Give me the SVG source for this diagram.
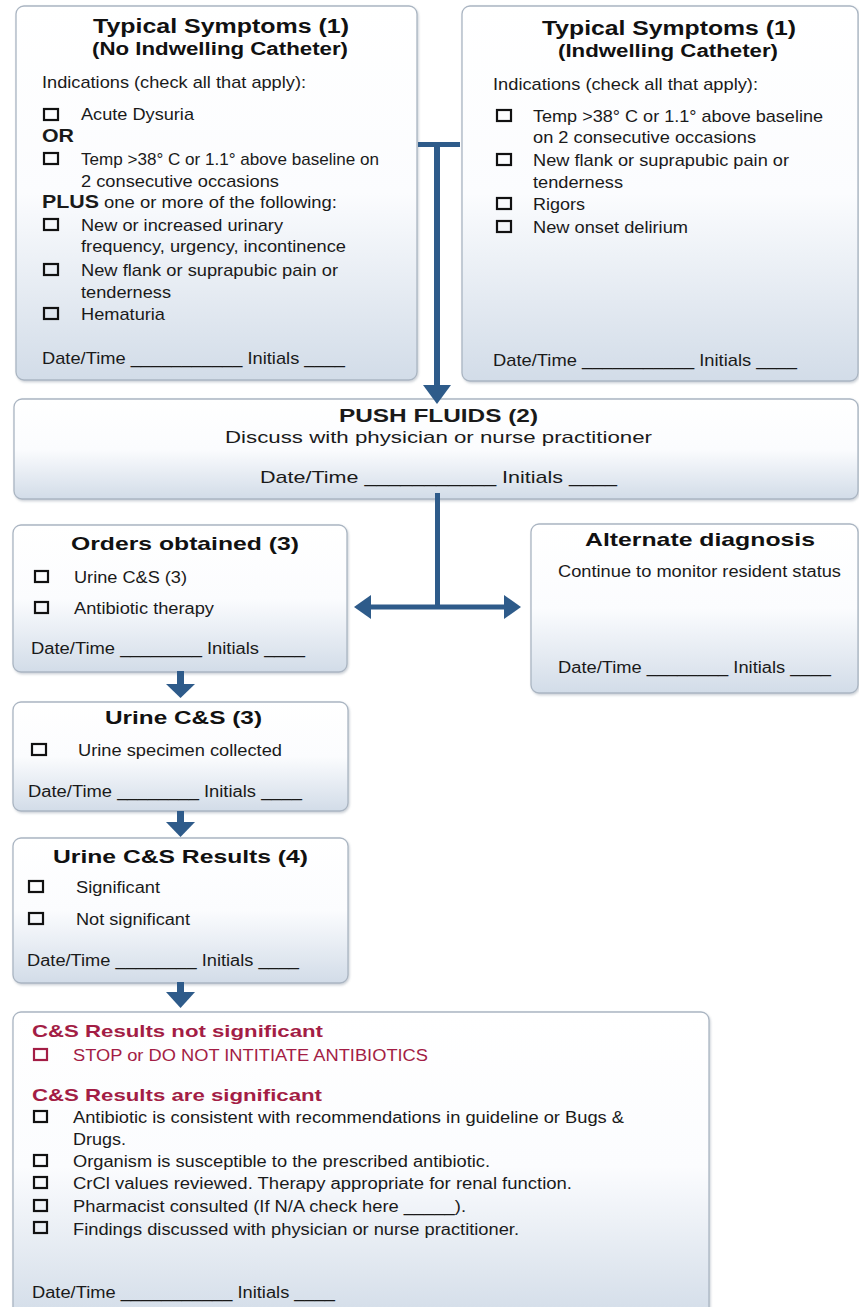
<svg xmlns="http://www.w3.org/2000/svg" width="859" height="1307" viewBox="0 0 859 1307">
<defs>
<linearGradient id="bg" x1="0" y1="0" x2="0" y2="1">
<stop offset="0" stop-color="#ffffff"/>
<stop offset="0.5" stop-color="#fbfcfe"/>
<stop offset="1" stop-color="#d2dce8"/>
</linearGradient>
<filter id="sh" x="-5%" y="-5%" width="110%" height="110%">
<feDropShadow dx="1" dy="1.5" stdDeviation="1.2" flood-color="#6a7a8c" flood-opacity="0.35"/>
</filter>
<style>
.box{fill:url(#bg);stroke:#aab5c2;stroke-width:1.3;filter:url(#sh)}
text{font-family:"Liberation Sans",Arial,sans-serif;fill:#1a1a1a;font-size:17px}
.t{font-weight:bold;font-size:20px;fill:#111}
.st{font-weight:bold;font-size:17.5px;fill:#111}
.h{font-weight:bold;font-size:19px;fill:#111}
.s{font-size:16px}
.r{fill:#a31d45}
.rb{font-weight:bold;font-size:17px;fill:#a31d45}
.cb{fill:none;stroke:#111;stroke-width:2.2}
.cbr{fill:none;stroke:#a31d45;stroke-width:2.2}
.ln{stroke:#2e5b8a;fill:none}
.ah{fill:#2e5b8a}
</style>
</defs>

<g id="node-symptoms-no-catheter">
<rect class="box" x="16" y="6" width="401" height="374" rx="8"/>
<text class="t" x="93" y="33" textLength="256" lengthAdjust="spacingAndGlyphs">Typical Symptoms (1)</text>
<text class="st" x="92" y="55" textLength="256" lengthAdjust="spacingAndGlyphs">(No Indwelling Catheter)</text>
<text x="42" y="88" textLength="264" lengthAdjust="spacingAndGlyphs">Indications (check all that apply):</text>
<rect class="cb" x="44" y="109" width="14" height="11"/>
<text x="81" y="120" textLength="113" lengthAdjust="spacingAndGlyphs">Acute Dysuria</text>
<text x="42" y="142" style="font-weight:bold;font-size:18px" textLength="32" lengthAdjust="spacingAndGlyphs">OR</text>
<rect class="cb" x="44" y="153" width="14" height="11"/>
<text x="81" y="165" textLength="298" lengthAdjust="spacingAndGlyphs">Temp &gt;38° C or 1.1° above baseline on</text>
<text x="81" y="187" textLength="198" lengthAdjust="spacingAndGlyphs">2 consecutive occasions</text>
<text y="208"><tspan x="42" style="font-weight:bold;font-size:18px" textLength="57" lengthAdjust="spacingAndGlyphs">PLUS</tspan><tspan x="104" textLength="233" lengthAdjust="spacingAndGlyphs">one or more of the following:</tspan></text>
<rect class="cb" x="44" y="219" width="14" height="11"/>
<text x="81" y="231" textLength="202" lengthAdjust="spacingAndGlyphs">New or increased urinary</text>
<text x="81" y="252" textLength="265" lengthAdjust="spacingAndGlyphs">frequency, urgency, incontinence</text>
<rect class="cb" x="44" y="264" width="14" height="11"/>
<text x="81" y="276" textLength="257" lengthAdjust="spacingAndGlyphs">New flank or suprapubic pain or</text>
<text x="81" y="298" textLength="90" lengthAdjust="spacingAndGlyphs">tenderness</text>
<rect class="cb" x="44" y="308" width="14" height="11"/>
<text x="81" y="320" textLength="84" lengthAdjust="spacingAndGlyphs">Hematuria</text>
<text x="42" y="364" textLength="303" lengthAdjust="spacingAndGlyphs">Date/Time ___________ Initials ____</text>
</g>

<g id="node-symptoms-catheter">
<rect class="box" x="462" y="6" width="396" height="375" rx="8"/>
<text class="t" x="542" y="35" textLength="254" lengthAdjust="spacingAndGlyphs">Typical Symptoms (1)</text>
<text class="st" x="558" y="57" textLength="220" lengthAdjust="spacingAndGlyphs">(Indwelling Catheter)</text>
<text x="493" y="90" textLength="265" lengthAdjust="spacingAndGlyphs">Indications (check all that apply):</text>
<rect class="cb" x="497" y="110" width="14" height="11"/>
<text x="533" y="122" textLength="290" lengthAdjust="spacingAndGlyphs">Temp &gt;38° C or 1.1° above baseline</text>
<text x="533" y="143" textLength="223" lengthAdjust="spacingAndGlyphs">on 2 consecutive occasions</text>
<rect class="cb" x="497" y="154" width="14" height="11"/>
<text x="533" y="166" textLength="256" lengthAdjust="spacingAndGlyphs">New flank or suprapubic pain or</text>
<text x="533" y="188" textLength="90" lengthAdjust="spacingAndGlyphs">tenderness</text>
<rect class="cb" x="497" y="198" width="14" height="11"/>
<text x="533" y="210" textLength="52" lengthAdjust="spacingAndGlyphs">Rigors</text>
<rect class="cb" x="497" y="221" width="14" height="11"/>
<text x="533" y="233" textLength="155" lengthAdjust="spacingAndGlyphs">New onset delirium</text>
<text x="493" y="366" textLength="304" lengthAdjust="spacingAndGlyphs">Date/Time ___________ Initials ____</text>
</g>

<g id="node-push-fluids">
<rect class="box" x="14" y="399" width="844" height="100" rx="8"/>
<text x="339" y="422" style="font-weight:bold;font-size:18.5px" fill="#111" textLength="199" lengthAdjust="spacingAndGlyphs">PUSH FLUIDS (2)</text>
<text x="225" y="443" style="font-size:16.5px" textLength="427" lengthAdjust="spacingAndGlyphs">Discuss with physician or nurse practitioner</text>
<text x="260" y="483" textLength="357" lengthAdjust="spacingAndGlyphs">Date/Time ___________ Initials ____</text>
</g>

<g id="node-orders-obtained">
<rect class="box" x="13" y="525" width="334" height="147" rx="8"/>
<text class="h" x="71" y="550" textLength="228" lengthAdjust="spacingAndGlyphs">Orders obtained (3)</text>
<rect class="cb" x="35" y="571" width="13" height="11"/>
<text class="s" x="74" y="583" textLength="113" lengthAdjust="spacingAndGlyphs">Urine C&amp;S (3)</text>
<rect class="cb" x="35" y="602" width="13" height="11"/>
<text class="s" x="74" y="614" textLength="140" lengthAdjust="spacingAndGlyphs">Antibiotic therapy</text>
<text class="s" x="31" y="654" textLength="274" lengthAdjust="spacingAndGlyphs">Date/Time ________ Initials ____</text>
</g>

<g id="node-alternate-diagnosis">
<rect class="box" x="531" y="524" width="327" height="169" rx="8"/>
<text class="h" x="585" y="546" textLength="230" lengthAdjust="spacingAndGlyphs">Alternate diagnosis</text>
<text class="s" x="558" y="577" textLength="283" lengthAdjust="spacingAndGlyphs">Continue to monitor resident status</text>
<text class="s" x="558" y="673" textLength="273" lengthAdjust="spacingAndGlyphs">Date/Time ________ Initials ____</text>
</g>

<g id="node-urine-cs">
<rect class="box" x="13" y="702" width="335" height="109" rx="8"/>
<text class="h" x="105" y="724" textLength="157" lengthAdjust="spacingAndGlyphs">Urine C&amp;S (3)</text>
<rect class="cb" x="32" y="744" width="14" height="11"/>
<text class="s" x="78" y="756" textLength="204" lengthAdjust="spacingAndGlyphs">Urine specimen collected</text>
<text class="s" x="28" y="797" textLength="274" lengthAdjust="spacingAndGlyphs">Date/Time ________ Initials ____</text>
</g>

<g id="node-urine-cs-results">
<rect class="box" x="13" y="838" width="335" height="145" rx="8"/>
<text class="h" x="53" y="863" textLength="255" lengthAdjust="spacingAndGlyphs">Urine C&amp;S Results (4)</text>
<rect class="cb" x="29" y="881" width="14" height="11"/>
<text class="s" x="76" y="893" textLength="84" lengthAdjust="spacingAndGlyphs">Significant</text>
<rect class="cb" x="29" y="913" width="14" height="11"/>
<text class="s" x="76" y="925" textLength="114" lengthAdjust="spacingAndGlyphs">Not significant</text>
<text class="s" x="27" y="966" textLength="272" lengthAdjust="spacingAndGlyphs">Date/Time ________ Initials ____</text>
</g>

<g id="node-cs-results-actions">
<rect class="box" x="13" y="1012" width="696" height="310" rx="8"/>
<text class="rb" x="32" y="1037" textLength="291" lengthAdjust="spacingAndGlyphs">C&amp;S Results not significant</text>
<rect class="cbr" x="34" y="1049" width="13" height="11"/>
<text class="s r" x="73" y="1061" textLength="355" lengthAdjust="spacingAndGlyphs">STOP or DO NOT INTITIATE ANTIBIOTICS</text>
<text class="rb" x="32" y="1101" textLength="290" lengthAdjust="spacingAndGlyphs">C&amp;S Results are significant</text>
<rect class="cb" x="34" y="1111" width="13" height="11"/>
<text class="s" x="73" y="1123" textLength="551" lengthAdjust="spacingAndGlyphs">Antibiotic is consistent with recommendations in guideline or Bugs &amp;</text>
<text class="s" x="73" y="1145" textLength="53" lengthAdjust="spacingAndGlyphs">Drugs.</text>
<rect class="cb" x="34" y="1155" width="13" height="11"/>
<text class="s" x="73" y="1167" textLength="417" lengthAdjust="spacingAndGlyphs">Organism is susceptible to the prescribed antibiotic.</text>
<rect class="cb" x="34" y="1177" width="13" height="11"/>
<text class="s" x="73" y="1189" textLength="499" lengthAdjust="spacingAndGlyphs">CrCl values reviewed. Therapy appropriate for renal function.</text>
<rect class="cb" x="34" y="1200" width="13" height="11"/>
<text class="s" x="73" y="1212" textLength="393" lengthAdjust="spacingAndGlyphs">Pharmacist consulted (If N/A check here _____).</text>
<rect class="cb" x="34" y="1222" width="13" height="11"/>
<text class="s" x="73" y="1235" textLength="446" lengthAdjust="spacingAndGlyphs">Findings discussed with physician or nurse practitioner.</text>
<text class="s" x="32" y="1298" textLength="303" lengthAdjust="spacingAndGlyphs">Date/Time ___________ Initials ____</text>
</g>

<g id="connectors">
<path class="ln" d="M418,144.5 H460" stroke-width="5"/>
<path class="ln" d="M437,142 V387" stroke-width="6"/>
<polygon class="ah" points="423,385 451,385 437,404"/>
<path class="ln" d="M437.5,493 V607" stroke-width="5"/>
<path class="ln" d="M368,607 H507" stroke-width="5"/>
<polygon class="ah" points="371,595 371,619 354,607"/>
<polygon class="ah" points="504,595 504,619 521,607"/>
<path class="ln" d="M180.5,671 V686" stroke-width="7"/>
<polygon class="ah" points="166,684 195,684 180.5,698"/>
<path class="ln" d="M180.5,811 V824" stroke-width="7"/>
<polygon class="ah" points="166,822 195,822 180.5,837"/>
<path class="ln" d="M180.5,982 V994" stroke-width="7"/>
<polygon class="ah" points="166,992 195,992 180.5,1008"/>
</g>
</svg>
